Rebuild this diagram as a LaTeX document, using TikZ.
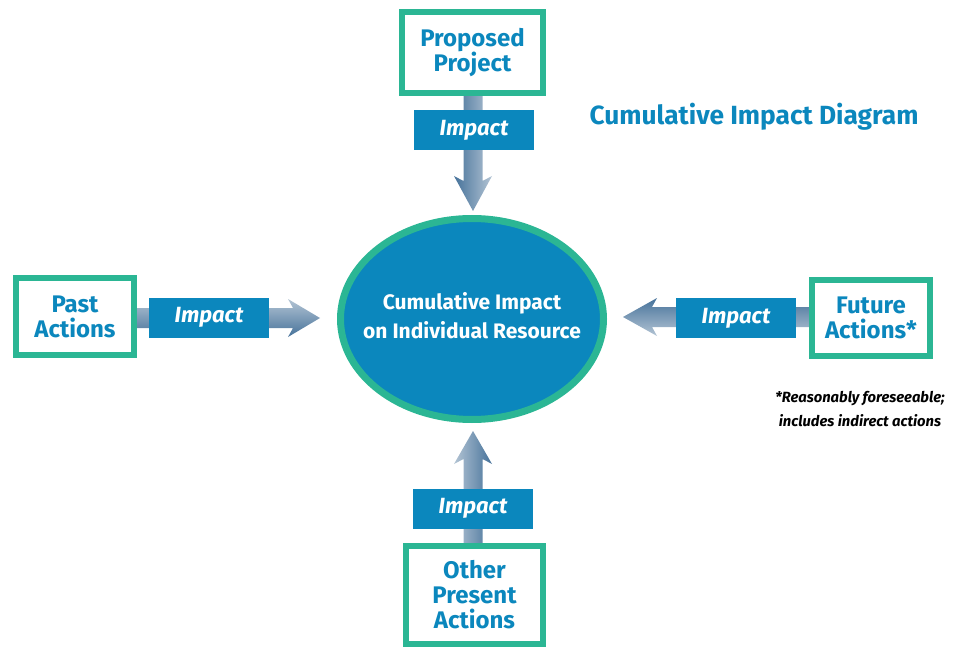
\documentclass[tikz,border=0pt]{standalone}
\usepackage{fontspec}
\setmainfont{Fira Sans}
\usetikzlibrary{calc,shapes.geometric,backgrounds}
\definecolor{ablue}{HTML}{0B87BD}
\definecolor{agreen}{HTML}{2BB694}
\definecolor{adark}{HTML}{46729A}
\definecolor{amid}{HTML}{B3C4D4}
\definecolor{alight}{HTML}{F4F7FA}
\begin{document}
\begin{tikzpicture}[x=1pt,y=-1pt,
  srcbox/.style={draw=agreen,line width=6pt,fill=white,text=ablue,align=center,inner sep=0pt,
    font=\bfseries\fontsize{24}{25}\selectfont},
  impbox/.style={fill=ablue,text=white,minimum width=120pt,minimum height=40pt,inner sep=0pt,
    font=\bfseries\itshape\fontsize{22}{24}\selectfont},
  hub/.style={ellipse,draw=agreen,line width=7pt,fill=ablue,inner sep=0pt,
    minimum width=263pt,minimum height=201pt},
  hubtext/.style={text=white,align=center,inner sep=0pt,font=\bfseries\fontsize{21}{29}\selectfont}
]
\useasboundingbox (0,0) rectangle (964,647);

% central ellipse
\node[hub] (ell) at (472,319) {};
\node[hubtext] (elltxt) at (472,316) {Cumulative Impact\\on Individual Resource};

% source boxes
\node[srcbox,minimum width=141pt,minimum height=81pt] (pp) at (472.5,52.5) {Proposed\\Project};
\node[srcbox,minimum width=118pt,minimum height=77pt] (past) at (75,316.5) {Past\\Actions};
\node[srcbox,minimum width=118pt,minimum height=76pt] (fut) at (871,317.5) {Future\\Actions*};
\node[srcbox,minimum width=137pt,minimum height=98pt] (oth) at (474.5,595) {Other\\Present\\Actions};

% impact labels
\node[impbox] (iT) at (474,130) {Impact};
\node[impbox] (iL) at (209,317.5) {Impact};
\node[impbox] (iR) at (736,318) {Impact};
\node[impbox] (iB) at (473,508.5) {Impact};

% title and note
\node[text=ablue,font=\bfseries\fontsize{26.3}{28}\selectfont] (title) at (754,117) {Cumulative Impact Diagram};
\node[align=center,font=\bfseries\itshape\fontsize{14.8}{24}\selectfont] (note) at (860,409) {*Reasonably foreseeable;\\includes indirect actions};

% arrow tips and starts
\coordinate (tT) at ($(ell.north)+(1,-4)$);
\coordinate (tL) at ($(ell.west)+(-17,-1)$);
\coordinate (tR) at ($(ell.east)+(16,-2)$);
\coordinate (tB) at ($(ell.south)+(1,8)$);
\coordinate (sT) at (pp.south -| tT);
\coordinate (sL) at (past.east |- tL);
\coordinate (sR) at (fut.west |- tR);
\coordinate (sB) at (oth.north -| tB);

\begin{scope}[on background layer]
\shade[left color=adark,middle color=alight,right color=amid]
  ($(sT)+(-9.5,0)$) -- ($(tT)+(-9.5,-30)$) -- ($(tT)+(-19,-35)$) -- (tT)
  -- ($(tT)+(19,-35)$) -- ($(tT)+(9.5,-30)$) -- ($(sT)+(9.5,0)$) -- cycle;
\shade[left color=amid,middle color=alight,right color=adark]
  ($(sB)+(-9.5,0)$) -- ($(tB)+(-9.5,28)$) -- ($(tB)+(-19,33)$) -- (tB)
  -- ($(tB)+(19,33)$) -- ($(tB)+(9.5,28)$) -- ($(sB)+(9.5,0)$) -- cycle;
\shade[top color=amid,middle color=alight,bottom color=adark]
  ($(sL)+(0,-10)$) -- ($(tL)+(-27,-10)$) -- ($(tL)+(-32,-19)$) -- (tL)
  -- ($(tL)+(-32,19)$) -- ($(tL)+(-27,10)$) -- ($(sL)+(0,10)$) -- cycle;
\shade[top color=adark,middle color=alight,bottom color=amid]
  ($(sR)+(0,-10)$) -- ($(tR)+(29,-10)$) -- ($(tR)+(34,-19)$) -- (tR)
  -- ($(tR)+(34,19)$) -- ($(tR)+(29,10)$) -- ($(sR)+(0,10)$) -- cycle;
\end{scope}
\end{tikzpicture}
\end{document}
